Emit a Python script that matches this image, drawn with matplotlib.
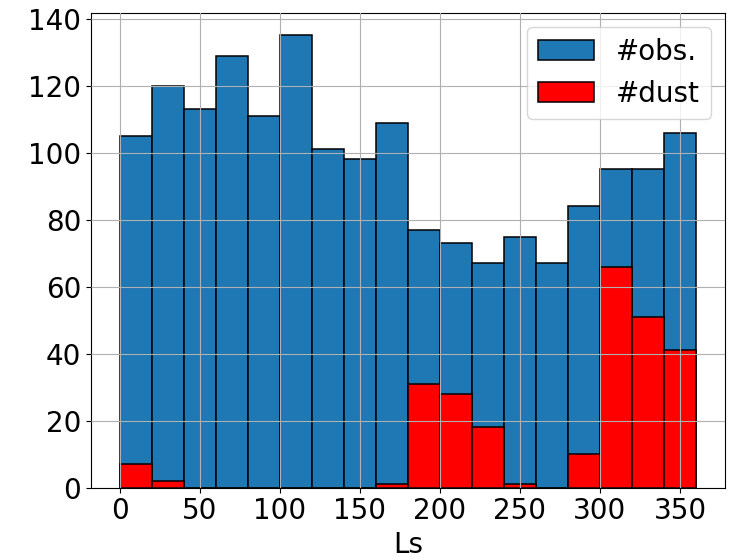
import numpy as np
import matplotlib
matplotlib.use('Agg')
import matplotlib.pyplot as plt

# Ls bins of 20 degrees
bin_edges = np.arange(0, 361, 20)
n_obs = [105, 120, 113, 129, 111, 135, 101, 98, 109, 77, 73, 67, 75, 67, 84, 95, 95, 106]
n_dust = [7, 2, 0, 0, 0, 0, 0, 0, 1, 31, 28, 18, 1, 0, 10, 66, 51, 41]
x_ticks = [0, 50, 100, 150, 200, 250, 300, 350]
y_ticks = [0, 20, 40, 60, 80, 100, 120, 140]

plt.rcParams['font.size'] = 20

fig = plt.figure(figsize=(7.43, 5.6), dpi=100)
ax = fig.add_axes([0.1225, 0.129, 0.853, 0.848])

centers = bin_edges[:-1] + 10
ax.hist(centers, bins=bin_edges, weights=n_obs, color='#1f77b4', edgecolor='black',
        linewidth=1.1, label='#obs.')
ax.hist(centers, bins=bin_edges, weights=n_dust, color='red', edgecolor='black',
        linewidth=1.1, label='#dust')

ax.set_xticks(x_ticks)
ax.set_yticks(y_ticks)
ax.set_ylim(0, 141.75)
ax.set_axisbelow(False)
ax.grid(True)
ax.set_xlabel('Ls')
ax.legend(loc='upper right')

fig.savefig('out.png')
